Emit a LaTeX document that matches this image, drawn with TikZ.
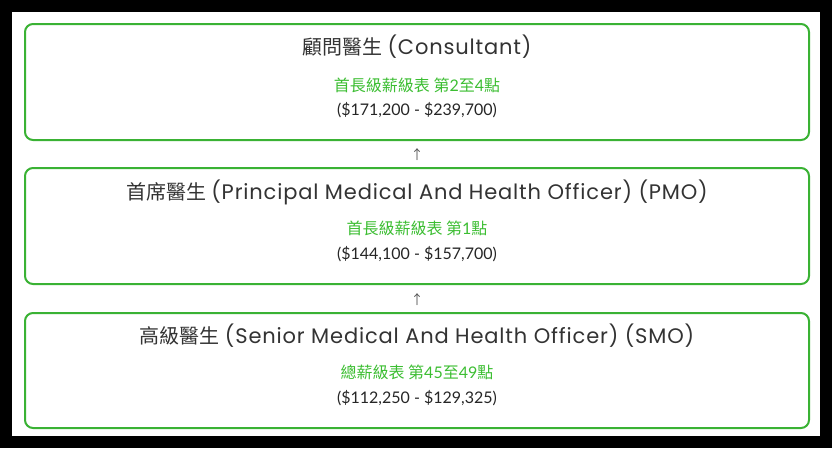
\documentclass[tikz,border=0pt]{standalone}
\usepackage{fontspec}
\setmainfont{Lato}
\newfontfamily\titlefont[LetterSpace=4.0]{Poppins}
\newfontfamily\cjkfont{Noto Sans CJK TC}
\newfontfamily\numfont{Lato}
\definecolor{boxgreen}{RGB}{58,178,52}
\definecolor{txtgreen}{RGB}{60,190,50}
\definecolor{titlegray}{RGB}{51,51,51}
\definecolor{arrowgray}{RGB}{85,85,85}
\tikzset{
  rankbox/.style={draw=boxgreen, line width=2pt, rounded corners=8pt, fill=white},
  titletxt/.style={text=titlegray, font=\fontsize{20}{24}\selectfont, inner sep=0pt, anchor=center},
  greentxt/.style={text=txtgreen, font=\fontsize{16}{19}\selectfont, inner sep=0pt, anchor=center},
  paytxt/.style={text=black!85, font=\numfont\fontsize{16}{19}\selectfont, inner sep=0pt, anchor=center},
  uparrow/.style={text=arrowgray, font=\cjkfont\fontsize{13}{15}\selectfont, inner sep=0pt, anchor=center}
}
\newcommand{\cj}[1]{{\cjkfont #1}}
\newcommand{\la}[1]{{\titlefont\fontsize{21}{24}\selectfont #1}}
\newcommand{\nm}[1]{{\numfont #1}}
\begin{document}
\begin{tikzpicture}[x=1pt,y=-1pt]
\fill[black] (0,0) rectangle (832,448);
\fill[white] (12,12) rectangle (820,436);
\useasboundingbox (0,0) rectangle (832,448);

\draw[rankbox] (25,24) rectangle (809,140);
\draw[rankbox] (25,168) rectangle (809,284);
\draw[rankbox] (25,313) rectangle (809,428);

\node[titletxt] (t1) at (417,47) {\cj{顧問醫生} \la{(Consultant)}};
\node[greentxt] (g1) at (417,85) {\cj{首長級薪級表 第}\nm{2}\cj{至}\nm{4}\cj{點}};
\node[paytxt] (p1) at (417,110) {(\$171,200 - \$239,700)};

\node[titletxt] (t2) at (417,192) {\cj{首席醫生} \la{(Principal Medical And Health Officer) (PMO)}};
\node[greentxt] (g2) at (417,228) {\cj{首長級薪級表 第}\nm{1}\cj{點}};
\node[paytxt] (p2) at (417,254) {(\$144,100 - \$157,700)};

\node[titletxt] (t3) at (417,336) {\cj{高級醫生} \la{(Senior Medical And Health Officer) (SMO)}};
\node[greentxt] (g3) at (417,372) {\cj{總薪級表 第}\nm{45}\cj{至}\nm{49}\cj{點}};
\node[paytxt] (p3) at (417,398) {(\$112,250 - \$129,325)};

\node[uparrow] (a1) at (417,155) {↑};
\node[uparrow] (a2) at (417,300) {↑};
\end{tikzpicture}
\end{document}
